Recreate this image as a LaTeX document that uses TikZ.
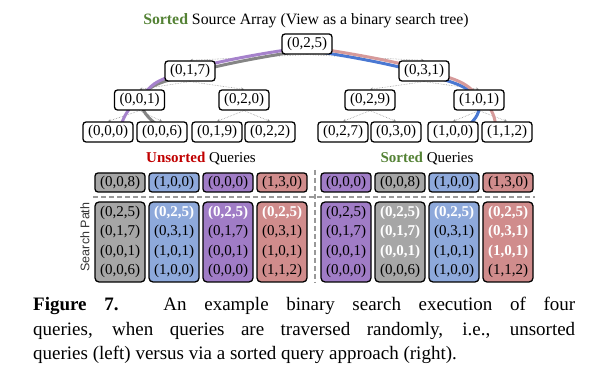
\documentclass[tikz,border=0pt]{standalone}
\usepackage{fontspec}
\setmainfont{Liberation Serif}
\setsansfont{Liberation Sans}
\usetikzlibrary{arrows.meta}
\definecolor{qgray}{HTML}{A6A6A6}
\definecolor{qblue}{HTML}{8EA9DB}
\definecolor{qpurple}{HTML}{A07CC6}
\definecolor{qred}{HTML}{D08C8C}
\definecolor{pgray}{HTML}{858585}
\definecolor{pblue}{HTML}{4A78D2}
\definecolor{ppurple}{HTML}{A682CC}
\definecolor{pred}{HTML}{D69A9A}
\definecolor{sgreen}{HTML}{548235}
\definecolor{ured}{HTML}{C00000}
\newcommand\wb[1]{\textcolor{white}{\textbf{#1}}}
\pgfdeclarelayer{bg}
\pgfsetlayers{bg,main}
\tikzset{
 tnode/.style={draw=black, line width=1.3pt, rounded corners=3pt, fill=white, minimum width=50pt, minimum height=20pt, inner sep=0pt, font=\fontsize{15}{16}\selectfont},
 qbox/.style={tnode, minimum height=19pt},
 pbox/.style={draw=black, line width=1.3pt, rounded corners=4pt, minimum width=50pt, minimum height=80pt, inner sep=0pt, align=center, font=\fontsize{15}{19.5}\selectfont},
 tedge/.style={draw=black!40, densely dotted, line width=0.6pt, -{Stealth[length=3pt,width=3pt]}},
 tpath/.style={line width=3pt, line cap=round},
 sepline/.style={draw=black!40, line width=1.8pt, dash pattern=on 5pt off 3pt},
 lbl/.style={font=\fontsize{15}{16}\selectfont},
 captext/.style={anchor=base west, inner sep=0pt, font=\fontsize{19}{24}\selectfont},
}
\begin{document}
\begin{tikzpicture}[x=1pt,y=-1pt]
\useasboundingbox (0,0) rectangle (598,382);
% title
\node[font=\fontsize{15.8}{17}\selectfont] (title) at (306,21) {\textcolor{sgreen}{\textbf{Sorted}} Source Array (View as a binary search tree)};
% tree coordinates
\coordinate (c025) at (307,44);
\coordinate (c017) at (190,71);
\coordinate (c031) at (424,71);
\coordinate (c001) at (139.5,100);
\coordinate (c020) at (244,100);
\coordinate (c029) at (370,100);
\coordinate (c101) at (479,100);
\coordinate (c000) at (108,132);
\coordinate (c006) at (162,132);
\coordinate (c019) at (217,132);
\coordinate (c022) at (270,132);
\coordinate (c027) at (343,132);
\coordinate (c030) at (396,132);
\coordinate (c100) at (453,132);
\coordinate (c112) at (507,132);
% nodes
\node[tnode] (n025) at (c025) {(0,2,5)};
\node[tnode] (n017) at (c017) {(0,1,7)};
\node[tnode] (n031) at (c031) {(0,3,1)};
\node[tnode] (n001) at (c001) {(0,0,1)};
\node[tnode] (n020) at (c020) {(0,2,0)};
\node[tnode] (n029) at (c029) {(0,2,9)};
\node[tnode] (n101) at (c101) {(1,0,1)};
\node[tnode] (n000) at (c000) {(0,0,0)};
\node[tnode] (n006) at (c006) {(0,0,6)};
\node[tnode] (n019) at (c019) {(0,1,9)};
\node[tnode] (n022) at (c022) {(0,2,2)};
\node[tnode] (n027) at (c027) {(0,2,7)};
\node[tnode] (n030) at (c030) {(0,3,0)};
\node[tnode] (n100) at (c100) {(1,0,0)};
\node[tnode] (n112) at (c112) {(1,1,2)};
\begin{pgfonlayer}{bg}
\draw[tedge] (n025.south) -- (n017.north);
\draw[tedge] (n025.south) -- (n031.north);
\draw[tedge] (n017.south) -- (n001.north);
\draw[tedge] (n017.south) -- (n020.north);
\draw[tedge] (n031.south) -- (n029.north);
\draw[tedge] (n031.south) -- (n101.north);
\draw[tedge] (n001.south) -- (n000.north);
\draw[tedge] (n001.south) -- (n006.north);
\draw[tedge] (n020.south) -- (n019.north);
\draw[tedge] (n020.south) -- (n022.north);
\draw[tedge] (n029.south) -- (n027.north);
\draw[tedge] (n029.south) -- (n030.north);
\draw[tedge] (n101.south) -- (n100.north);
\draw[tedge] (n101.south) -- (n112.north);
\draw[tpath, pgray] plot[smooth, tension=0.9] coordinates {([yshift=-6pt]c025) ([yshift=-2pt,xshift=2pt]c017) ([xshift=3pt]c001) ([xshift=6pt]c006)};
\draw[tpath, ppurple] plot[smooth, tension=0.9] coordinates {([yshift=-3pt]c025) ([yshift=1pt,xshift=-1pt]c017) ([xshift=-2pt]c001) ([xshift=12pt]c000)};
\draw[tpath, pblue] plot[smooth, tension=0.9] coordinates {([yshift=-6pt]c025) ([yshift=-2pt,xshift=-2pt]c031) ([xshift=-2pt,yshift=-1pt]c101) ([xshift=7pt]c100)};
\draw[tpath, pred] plot[smooth, tension=0.9] coordinates {([yshift=-3pt]c025) ([yshift=1pt,xshift=1pt]c031) ([xshift=3pt,yshift=1pt]c101) ([xshift=-12pt]c112)};
\end{pgfonlayer}
% query labels
\node[lbl] (ulbl) at (201,159) {\textcolor{ured}{\textbf{Unsorted}} Queries};
\node[lbl] (slbl) at (427,159) {\textcolor{sgreen}{\textbf{Sorted}} Queries};
% separators
\coordinate (hs) at (93,197);
\coordinate (he) at (535,197);
\coordinate (vs) at (315,170);
\coordinate (ve) at (315,283);
\draw[sepline] (hs) -- (he);
\draw[sepline] (vs) -- (ve);
% query boxes
\node[qbox, fill=qgray] (u1) at (120,182.5) {(0,0,8)};
\node[qbox, fill=qblue] (u2) at (174,182.5) {(1,0,0)};
\node[qbox, fill=qpurple] (u3) at (228,182.5) {(0,0,0)};
\node[qbox, fill=qred] (u4) at (282,182.5) {(1,3,0)};
\node[qbox, fill=qpurple] (s1) at (346,182.5) {(0,0,0)};
\node[qbox, fill=qgray] (s2) at (400,182.5) {(0,0,8)};
\node[qbox, fill=qblue] (s3) at (454,182.5) {(1,0,0)};
\node[qbox, fill=qred] (s4) at (508,182.5) {(1,3,0)};
% search paths
\node[pbox, fill=qgray] (up1) at (120,242) {(0,2,5)\\(0,1,7)\\(0,0,1)\\(0,0,6)};
\node[pbox, fill=qblue] (up2) at (174,242) {\wb{(0,2,5)}\\(0,3,1)\\(1,0,1)\\(1,0,0)};
\node[pbox, fill=qpurple] (up3) at (228,242) {\wb{(0,2,5)}\\(0,1,7)\\(0,0,1)\\(0,0,0)};
\node[pbox, fill=qred] (up4) at (282,242) {\wb{(0,2,5)}\\(0,3,1)\\(1,0,1)\\(1,1,2)};
\node[pbox, fill=qpurple] (sp1) at (346,242) {(0,2,5)\\(0,1,7)\\(0,0,1)\\(0,0,0)};
\node[pbox, fill=qgray] (sp2) at (400,242) {\wb{(0,2,5)}\\\wb{(0,1,7)}\\\wb{(0,0,1)}\\(0,0,6)};
\node[pbox, fill=qblue] (sp3) at (454,242) {\wb{(0,2,5)}\\(0,3,1)\\(1,0,1)\\(1,0,0)};
\node[pbox, fill=qred] (sp4) at (508,242) {\wb{(0,2,5)}\\\wb{(0,3,1)}\\\wb{(1,0,1)}\\(1,1,2)};
\node[rotate=90, font=\sffamily\fontsize{12.5}{14}\selectfont, text=black!80] (splbl) at (85,237) {Search Path};
% caption
\node[captext] (cap1) at (33,311) {\makebox[542pt][s]{\textbf{Figure 7.} An example binary search execution of four}};
\node[captext] (cap2) at (33,335.5) {\makebox[542pt][s]{queries, when queries are traversed randomly, i.e., unsorted}};
\node[captext] (cap3) at (33,360) {queries (left) versus via a sorted query approach (right).};
\end{tikzpicture}
\end{document}
